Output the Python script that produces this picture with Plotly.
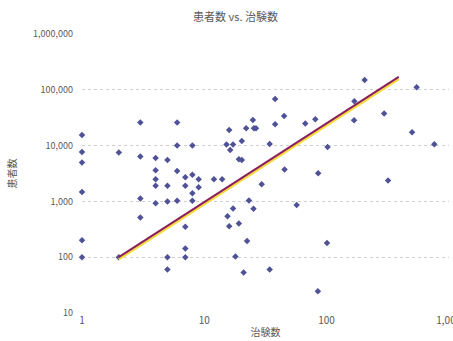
import plotly.graph_objects as go

trials = [1, 3, 6, 1, 2, 6, 8, 15.2, 1, 3, 4, 5, 4, 6, 4, 7, 8, 9, 12, 14,
          4, 5, 7, 9, 8, 1, 3, 4, 5, 6, 8, 3, 7, 15.5,
          25, 45, 16, 22, 25.5, 26.5, 38, 67, 81, 168, 296, 501, 762,
          17.2, 16.3, 20.3, 34.3, 102, 19.2, 20.3, 45.4, 85.5, 319, 29.5,
          23.2, 57, 17.2, 25.3, 16, 19.2,
          1, 1, 2, 5, 5, 7, 7, 22.4, 18, 21, 34.3, 101, 85,
          205, 546, 38, 169]
patients = [15500, 26000, 26000, 7700, 7500, 10000, 10000, 10500, 5000, 6400, 6000, 5500, 3600, 3500, 2500, 2700, 3000, 2500, 2500, 2500,
            1900, 1900, 1900, 1800, 1400, 1480, 1130, 930, 1000, 1030, 1030, 514, 350, 543,
            28900, 34000, 19100, 20500, 20500, 20500, 24200, 24900, 29700, 28500, 37600, 17400, 10600,
            10500, 8370, 12100, 10700, 9480, 5700, 5500, 3730, 3200, 2370, 2030,
            1040, 865, 746, 740, 360, 400,
            202, 100, 100, 100, 60, 143, 100, 196, 103, 53, 60, 180, 24.6,
            150000, 111000, 68700, 62500]

trend_x = [2, 390]
trend_y = [100, 170000]
trend_shadow_y = [92, 156000]

ytick_vals = [10, 100, 1000, 10000, 100000, 1000000]
ytick_text = ["10", "100", "1,000", "10,000", "100,000", "1,000,000"]
xtick_vals = [1, 10, 100, 1000]
xtick_text = ["1", "10", "100", "1,000"]

fig = go.Figure()
fig.add_trace(go.Scatter(x=trials, y=patients, mode="markers", cliponaxis=False,
                         marker=dict(symbol="diamond", size=5, color="#4f5296"),
                         showlegend=False))
fig.add_trace(go.Scatter(x=trend_x, y=trend_shadow_y, mode="lines",
                         line=dict(color="#f5dc3c", width=2.5), showlegend=False))
fig.add_trace(go.Scatter(x=trend_x, y=trend_y, mode="lines",
                         line=dict(color="#8b1f5e", width=2), showlegend=False))

font = "Noto Sans CJK JP"
fig.update_layout(
    width=453, height=341,
    margin=dict(l=82, r=4, t=34, b=28),
    paper_bgcolor="white", plot_bgcolor="white",
    font=dict(family=font, size=9, color="#595959"),
    title=dict(text="患者数 vs. 治験数", x=0.52, xanchor="center", y=0.95, yanchor="middle",
               font=dict(family=font, size=11, color="#595959")),
    xaxis=dict(type="log", range=[0, 3.002], tickvals=xtick_vals, ticktext=xtick_text,
               showgrid=False, zeroline=False, showline=False, ticks="", automargin=False,
               ticklabeloverflow="allow",
               title=dict(text="治験数", standoff=2, font=dict(size=10)),
               tickfont=dict(size=10)),
    yaxis=dict(type="log", range=[1, 6], tickvals=ytick_vals, ticktext=ytick_text,
               showgrid=True, gridcolor="#cfcfcf", griddash="dot", gridwidth=1,
               zeroline=False, showline=False, ticks="", ticklabelstandoff=8,
               title=dict(text="患者数", standoff=14, font=dict(size=10)),
               tickfont=dict(size=9)),
)
fig.write_html("out.html")
